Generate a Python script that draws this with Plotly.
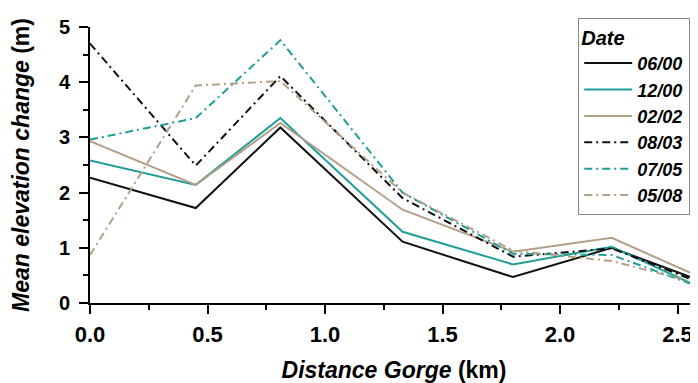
import plotly.graph_objects as go

distance_km = [0.0, 0.45, 0.81, 1.33, 1.80, 2.22, 2.60]

s_0600 = [2.27, 1.72, 3.18, 1.11, 0.47, 1.00, 0.40]
s_1200 = [2.58, 2.14, 3.35, 1.29, 0.70, 1.02, 0.27]
s_0202 = [2.93, 2.14, 3.26, 1.69, 0.93, 1.18, 0.46]
s_0803 = [4.70, 2.49, 4.11, 1.90, 0.84, 0.99, 0.36]
s_0705 = [2.96, 3.35, 4.76, 2.00, 0.89, 0.87, 0.28]
s_0508 = [0.87, 3.94, 4.02, 2.00, 0.95, 0.76, 0.34]

series_names = ["06/00", "12/00", "02/02", "08/03", "07/05", "05/08"]
series_values = [s_0600, s_1200, s_0202, s_0803, s_0705, s_0508]

BLACK = "#111111"
TEAL = "#1f9e98"
TAN = "#b39e88"
colors = [BLACK, TEAL, TAN, BLACK, TEAL, TAN]
dashes = ["solid", "solid", "solid", "8px,4px,2px,4px", "8px,4px,2px,4px", "8px,4px,2px,4px"]

FONT = "Liberation Sans, Arial, sans-serif"

fig = go.Figure()
for name, vals, c, d in zip(series_names, series_values, colors, dashes):
    fig.add_trace(go.Scatter(
        x=distance_km, y=vals, mode="lines", name=f"<b><i>{name}</i></b>",
        line=dict(color=c, width=2, dash=d),
    ))

fig.update_layout(
    width=690, height=375,
    margin=dict(l=82, r=0, t=19, b=80),
    paper_bgcolor="white", plot_bgcolor="white",
    font=dict(family=FONT, color="black"),
    showlegend=True,
    legend=dict(
        x=0.803, y=1.033, xanchor="left", yanchor="top",
        bgcolor="white", bordercolor="#888888", borderwidth=1,
        font=dict(size=18, family=FONT, color="black"),
        title=dict(text="<b><i>Date</i></b>", font=dict(size=20, family=FONT)),
        tracegroupgap=0, itemwidth=48, maxheight=320,
    ),
    xaxis=dict(
        range=[0, 2.587], tickvals=[0, 0.5, 1.0, 1.5, 2.0, 2.5],
        ticktext=["0.0", "0.5", "1.0", "1.5", "2.0", "2.5"],
        ticks="outside", ticklen=9, tickwidth=2, tickcolor="black",
        showline=True, linecolor="black", linewidth=2, showgrid=False, zeroline=False,
        tickfont=dict(size=22, family=FONT, color="black", weight="bold"),
        ticklabelstandoff=2,
        minor=dict(dtick=0.25, ticks="outside", ticklen=5, tickwidth=2, tickcolor="black"),
        title=dict(text="<b><i>Distance Gorge</i> (km)</b>", font=dict(size=23, family=FONT), standoff=16),
    ),
    yaxis=dict(
        range=[0, 5], tickvals=[0, 1, 2, 3, 4, 5],
        ticks="outside", ticklen=9, tickwidth=2, tickcolor="black",
        showline=True, linecolor="black", linewidth=2, showgrid=False, zeroline=False,
        tickfont=dict(size=20, family=FONT, color="black", weight="bold"),
        ticklabelstandoff=5,
        minor=dict(dtick=0.5, ticks="outside", ticklen=5, tickwidth=2, tickcolor="black"),
        title=dict(text="<b><i>Mean elevation change</i> (m)</b>", font=dict(size=23, family=FONT), standoff=31),
    ),
)

fig.write_html("out.html")
